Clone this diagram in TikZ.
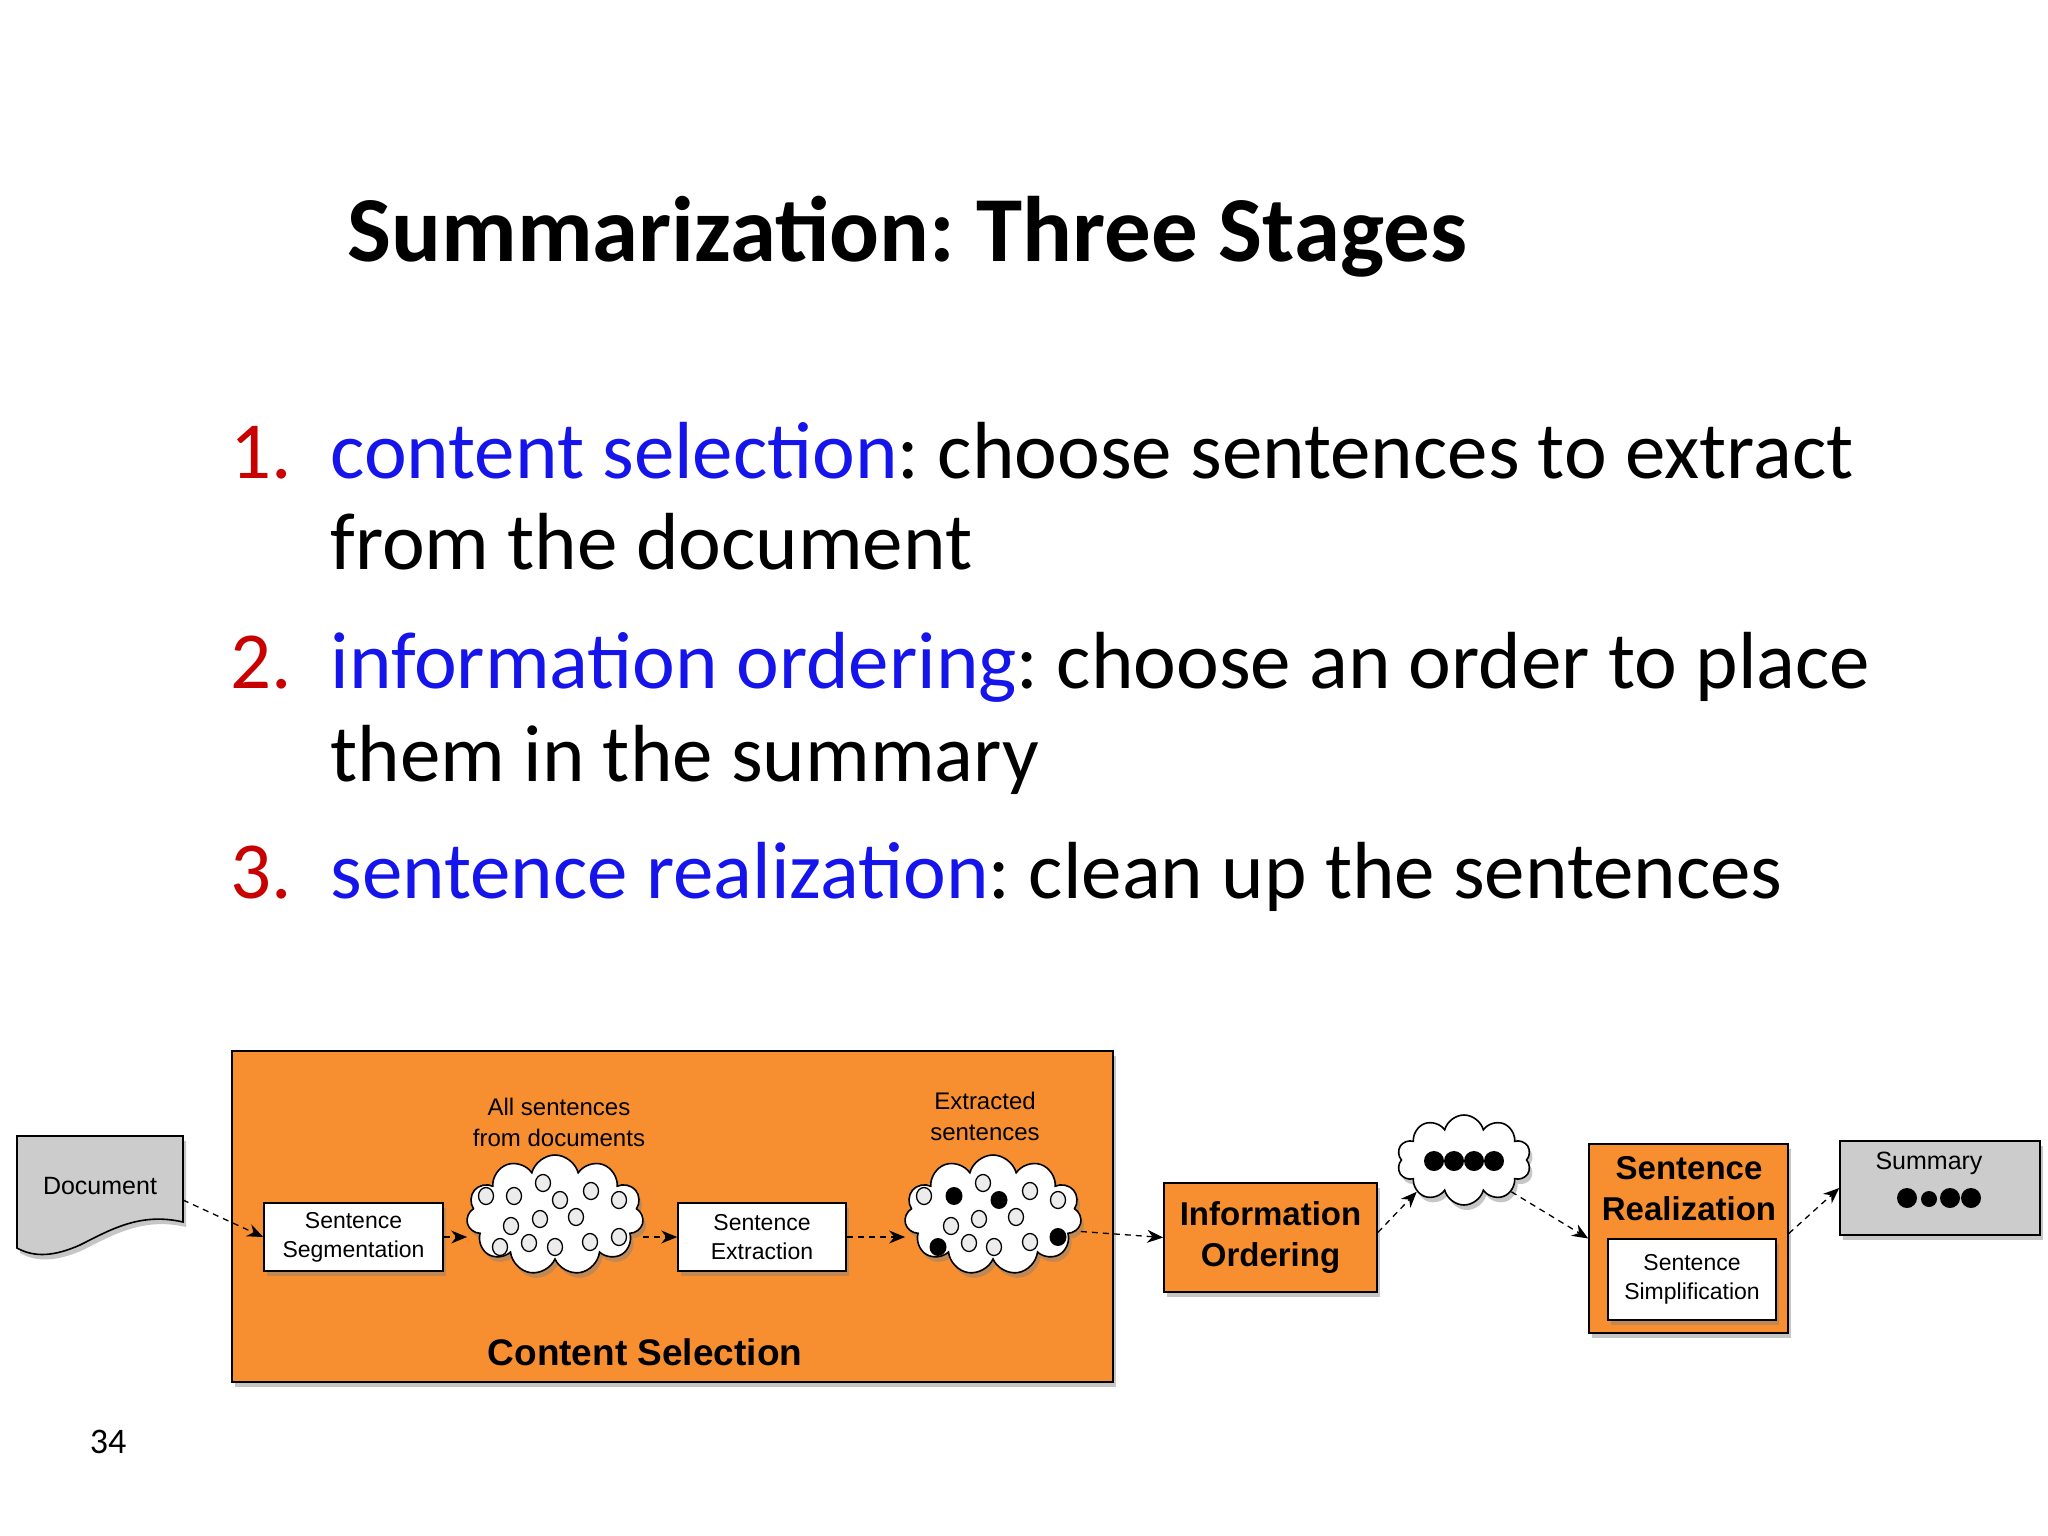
\documentclass[tikz,border=0pt]{standalone}
\usepackage{fontspec}
\setmainfont{Carlito}
\newfontfamily\hv{Liberation Sans}
\usetikzlibrary{shapes.symbols,shadows,arrows.meta}
\definecolor{org}{RGB}{247,143,48}
\definecolor{gr}{RGB}{204,204,204}
\definecolor{nred}{RGB}{200,0,0}
\definecolor{nblue}{RGB}{20,20,235}
\frenchspacing
\begin{document}
\begin{tikzpicture}[x=1pt,y=-1pt,
  shd/.style={drop shadow={opacity=0.45,shadow xshift=3pt,shadow yshift=-5pt}},
  box/.style={draw=black,line width=1.6pt,shd,inner sep=0pt,align=center},
  wbox/.style={box,fill=white,font=\hv\fontsize{23}{29}\selectfont},
  obox/.style={box,fill=org,font=\hv\bfseries\fontsize{33}{41}\selectfont},
  cld/.style={cloud,cloud puffs=11,aspect=1.5,draw=black,line width=1.6pt,fill=white,shd,inner sep=0pt},
  lbl/.style={font=\hv\fontsize{24}{31}\selectfont,align=center},
  conn/.style={line width=1.3pt,dash pattern=on 6pt off 5pt,-{Stealth[length=16pt,width=13pt]}},
  gdot/.style={draw=black,line width=1.3pt,fill=gray!15},
  bdot/.style={fill=black},
  li/.style={anchor=base west,font=\fontsize{81}{97}\selectfont}
]
\useasboundingbox (0,0) rectangle (2048,1536);
\node[anchor=base west,font=\bfseries\fontsize{93}{110}\selectfont] (title) at (344,261) {Summarization: Three Stages};
\node[li,text=nred] (n1) at (227,478) {1.};
\node[li] (l1) at (327,478) {\textcolor{nblue}{content selection}: choose sentences to extract};
\node[li] (l1b) at (327,569) {from the document};
\node[li,text=nred] (n2) at (227,688) {2.};
\node[li] (l2) at (327,688) {\textcolor{nblue}{information ordering}: choose an order to place};
\node[li] (l2b) at (327,781) {them in the summary};
\node[li,text=nred] (n3) at (227,898) {3.};
\node[li] (l3) at (327,898) {\textcolor{nblue}{sentence realization}: clean up the sentences};
\node[font=\fontsize{36}{40}\selectfont] (pg) at (108,1442) {34};
% document
\draw[fill=gr,line width=1.6pt,shd] (17,1136) -- (183,1136) -- (183,1222) .. controls (140,1212) and (110,1230) .. (80,1245) .. controls (55,1256) and (35,1258) .. (17,1248) -- cycle;
\node[lbl,font=\hv\fontsize{25}{31}\selectfont] (doc) at (100,1186) {Document};
\coordinate (docout) at (183,1200);
% content selection
\node[obox,minimum width=881pt,minimum height=331pt] (cs) at (672.5,1216.5) {};
\node[font=\hv\bfseries\fontsize{37}{44}\selectfont] (cslbl) at (645,1352) {Content Selection};
\node[wbox,minimum width=179pt,minimum height=68pt] (seg) at (353.5,1237) {Sentence\\Segmentation};
\node[wbox,minimum width=168pt,minimum height=68pt] (ext) at (762,1237) {Sentence\\Extraction};
\node[cld,minimum width=177pt,minimum height=120pt] (c1) at (555,1215) {};
\node[cld,minimum width=177pt,minimum height=120pt] (c2) at (993,1215) {};
\node[lbl] (t1) at (559,1122) {All sentences\\from documents};
\node[lbl] (t2) at (985,1116) {Extracted\\sentences};
\foreach \x/\y in {486/1196,514/1196,543/1183,560/1200,591/1191,619/1200,511/1226,540/1219,576/1217,500/1247,529/1243,555/1247,590/1242,619/1237}
  \draw[gdot] (\x,\y) ellipse (7.5pt and 8.5pt);
\foreach \x/\y in {924/1196,983/1183,1030/1191,1058/1200,951/1226,979/1219,1016/1217,969/1243,994/1247,1030/1242}
  \draw[gdot] (\x,\y) ellipse (7.5pt and 8.5pt);
\foreach \x/\y in {954/1196,999/1200,938/1247,1058/1237}
  \fill[bdot] (\x,\y) ellipse (8.5pt and 9pt);
% info ordering
\node[obox,minimum width=213pt,minimum height=109pt] (io) at (1270.5,1237.5) {Information\\Ordering};
\node[cld,cloud puffs=10,minimum width=134pt,minimum height=90pt] (c3) at (1464,1160) {};
\foreach \x in {1434,1454,1474,1494} \fill (\x,1161) circle (10pt);
% realization
\node[obox,minimum width=199pt,minimum height=189pt] (sr) at (1688.5,1238.5) {};
\node[font=\hv\bfseries\fontsize{33}{41}\selectfont,align=center] (srl) at (1689,1189) {Sentence\\Realization};
\node[wbox,font=\hv\fontsize{23}{29}\selectfont,minimum width=168pt,minimum height=81pt] (ss) at (1692,1279.5) {Sentence\\Simplification};
% summary
\node[box,fill=gr,minimum width=200pt,minimum height=94pt] (sum) at (1940,1188) {};
\node[lbl,font=\hv\fontsize{25}{31}\selectfont] (suml) at (1929,1163) {Summary};
\fill (1907,1198) circle (10pt) (1929,1199) circle (8pt) (1950,1198) circle (10pt) (1971,1198) circle (10pt);
% connectors
\draw[conn] (docout) -- (seg.west);
\draw[conn] (seg.east) -- (c1.west |- seg.east);
\draw[conn] (c1.east |- ext.west) -- (ext.west);
\draw[conn] (ext.east) -- (c2.west |- ext.east);
\draw[conn] (c2.east |- io.west) ++(0,-6) -- (io.west);
\draw[conn] (io.east) ++(0,-5) -- (c3.south west);
\draw[conn] (c3.south east) -- (sr.west);
\draw[conn] (sr.east) ++(0,-5) -- (sum.west);
\end{tikzpicture}
\end{document}
